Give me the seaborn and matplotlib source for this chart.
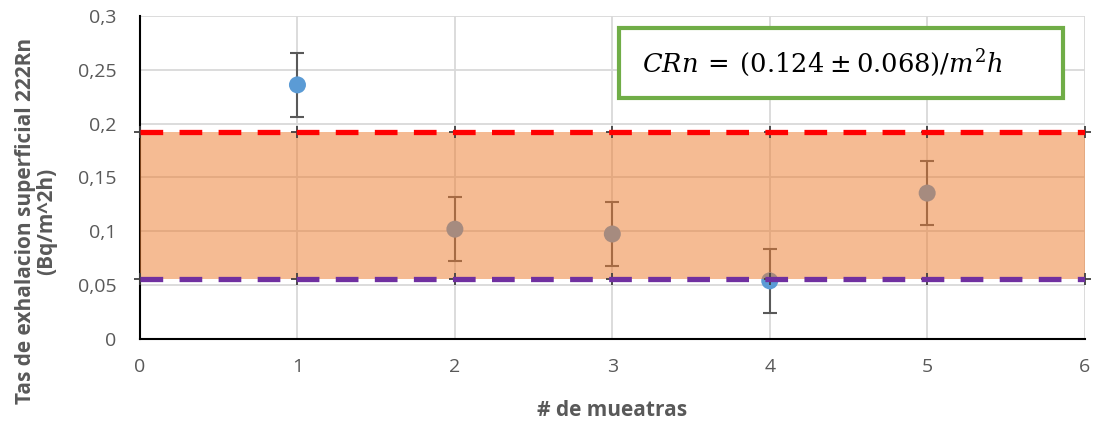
import numpy as np
import pandas as pd
import matplotlib
matplotlib.use("Agg")
import matplotlib.pyplot as plt
from matplotlib.patches import Rectangle
import seaborn as sns

# Measured surface exhalation rates per sample
muestras = [1, 2, 3, 4, 5]
tasa = [0.236, 0.102, 0.0975, 0.054, 0.1355]
error = [0.030, 0.030, 0.030, 0.030, 0.030]

# Mean value and its uncertainty
media = 0.124
incertidumbre = 0.068

x_limits = [0, 6]
y_ticks = [0, 0.05, 0.1, 0.15, 0.2, 0.25, 0.3]
y_tick_labels = ["0", "0,05", "0,1", "0,15", "0,2", "0,25", "0,3"]
x_ticks = [0, 1, 2, 3, 4, 5, 6]

sns.set_theme(style="white")
plt.rcParams["font.family"] = ["Open Sans", "DejaVu Sans"]
plt.rcParams["mathtext.fontset"] = "dejavuserif"

grey_text = "#595959"
fig = plt.figure(figsize=(11, 4.25), dpi=100)
ax = fig.add_axes([0.1273, 0.2024, 0.8587, 0.76])

df = pd.DataFrame({"muestra": muestras, "tasa": tasa, "error": error})

# grid
ax.set_axisbelow(True)
ax.grid(True, color="#D9D9D9", lw=1.3, zorder=0)

# error bars and points
ax.errorbar(df["muestra"], df["tasa"], yerr=df["error"], fmt="none",
            ecolor="#595959", elinewidth=1.5, capsize=5, capthick=1.5, zorder=2)
sns.scatterplot(data=df, x="muestra", y="tasa", ax=ax, color="#5B9BD5",
                s=150, edgecolor="none", zorder=3, legend=False)

# uncertainty band
upper = media + incertidumbre
lower = media - incertidumbre
xb = np.array(x_limits)
ax.fill_between(xb, [lower, lower], [upper, upper], color="#ED7D31",
                alpha=0.52, lw=0, zorder=4)

# limit lines with '+' markers at integer positions
lim_df = pd.DataFrame({"x": x_ticks * 2,
                       "y": [upper] * len(x_ticks) + [lower] * len(x_ticks),
                       "lim": ["sup"] * len(x_ticks) + ["inf"] * len(x_ticks)})
ax.scatter(lim_df["x"], lim_df["y"], marker="+", s=80, color="#404040",
           lw=1.3, zorder=5, clip_on=False)
sns.lineplot(data=lim_df[lim_df["lim"] == "sup"], x="x", y="y", ax=ax,
             color="#FF0000", lw=3.8, zorder=6, legend=False)
sns.lineplot(data=lim_df[lim_df["lim"] == "inf"], x="x", y="y", ax=ax,
             color="#7030A0", lw=3.8, zorder=6, legend=False)
for line in ax.get_lines()[-2:]:
    line.set_dashes((4.3, 3.1))
    line.set_dash_capstyle("butt")

ax.set_xlim(*x_limits)
ax.set_ylim(0, 0.3)
ax.set_xticks(x_ticks)
ax.set_xticklabels([str(t) for t in x_ticks])
ax.set_yticks(y_ticks)
ax.set_yticklabels(y_tick_labels)
ax.tick_params(axis="both", labelsize=14, colors=grey_text, length=0)
ax.tick_params(axis="y", pad=17)
ax.tick_params(axis="x", pad=14)

for side in ["top", "right"]:
    ax.spines[side].set_visible(False)
ax.spines["left"].set_color("black")
ax.spines["left"].set_linewidth(1.5)
ax.spines["bottom"].set_color("black")
ax.spines["bottom"].set_linewidth(1.5)

ax.set_xlabel("# de mueatras", fontsize=15, fontweight="bold", color=grey_text)
ax.set_ylabel("Tas de exhalacion superficial 222Rn\n(Bq/m^2h)", fontsize=15,
              fontweight="bold", color=grey_text, linespacing=1.0)
ax.xaxis.set_label_coords(0.5, -0.19)
ax.yaxis.set_label_coords(-0.088, 0.365)

# annotation box with the mean result
ax.add_patch(Rectangle((0.507, 0.746), 0.470, 0.217, transform=ax.transAxes,
                       fc="white", ec="#70AD47", lw=3, zorder=10, clip_on=False))
ax.text(0.531, 0.855, r"$CRn\:=\:(0.124\:\pm\:0.068)/m^2h$", transform=ax.transAxes,
        fontsize=18.5, color="black", va="center", ha="left", zorder=11)

fig.savefig("out.png", dpi=100)
